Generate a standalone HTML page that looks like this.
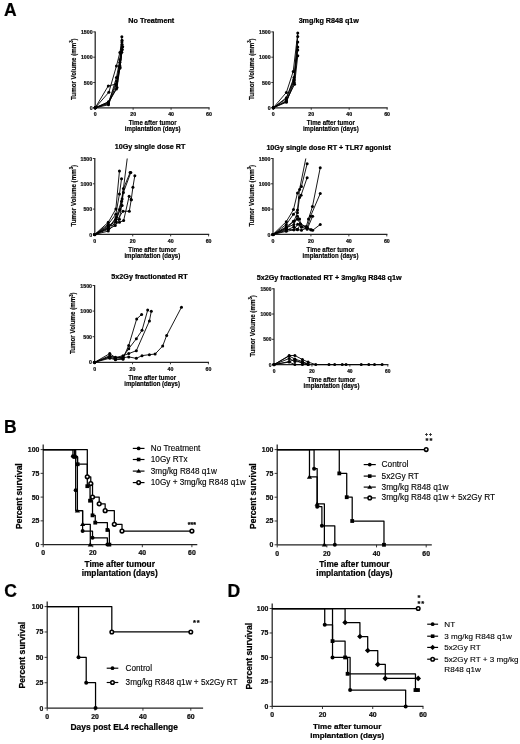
<!DOCTYPE html>
<html><head><meta charset="utf-8"><title>Figure</title>
<style>html,body{margin:0;padding:0;background:#fff;width:520px;height:744px;overflow:hidden}svg{display:block}</style>
</head><body>
<svg width="520" height="744" viewBox="0 0 520 744" font-family='"Liberation Sans", Arial, sans-serif'>
<style>text[font-weight="bold"]{stroke:#000;stroke-width:0.22px} text[font-weight="normal"]{stroke:#000;stroke-width:0.12px} text.lt{stroke-width:0.15px}</style>
<rect width="520" height="744" fill="#fff"/>
<text x="4" y="15.6" font-size="17.5" font-weight="bold" text-anchor="start" fill="#000">A</text>
<text x="4" y="432.6" font-size="17.5" font-weight="bold" text-anchor="start" fill="#000">B</text>
<text x="4.2" y="596.8" font-size="17.5" font-weight="bold" text-anchor="start" fill="#000">C</text>
<text x="227.6" y="596.6" font-size="17.5" font-weight="bold" text-anchor="start" fill="#000">D</text>
<line x1="95.2" y1="31.4" x2="95.2" y2="107.8" stroke="#222" stroke-width="1.25"/>
<line x1="94.6" y1="107.8" x2="209.6" y2="107.8" stroke="#222" stroke-width="1.25"/>
<line x1="93.2" y1="107.8" x2="95.2" y2="107.8" stroke="#222" stroke-width="0.9"/>
<text x="92.6" y="109.94" font-size="5.94" font-weight="bold" text-anchor="end" fill="#111" textLength="2.91" lengthAdjust="spacingAndGlyphs">0</text>
<line x1="93.2" y1="82.5" x2="95.2" y2="82.5" stroke="#222" stroke-width="0.9"/>
<text x="92.6" y="84.64" font-size="5.94" font-weight="bold" text-anchor="end" fill="#111" textLength="8.74" lengthAdjust="spacingAndGlyphs">500</text>
<line x1="93.2" y1="57.2" x2="95.2" y2="57.2" stroke="#222" stroke-width="0.9"/>
<text x="92.6" y="59.34" font-size="5.94" font-weight="bold" text-anchor="end" fill="#111" textLength="11.65" lengthAdjust="spacingAndGlyphs">1000</text>
<line x1="93.2" y1="31.9" x2="95.2" y2="31.9" stroke="#222" stroke-width="0.9"/>
<text x="92.6" y="34.04" font-size="5.94" font-weight="bold" text-anchor="end" fill="#111" textLength="11.65" lengthAdjust="spacingAndGlyphs">1500</text>
<line x1="95.2" y1="107.8" x2="95.2" y2="109.8" stroke="#222" stroke-width="0.9"/>
<text x="95.2" y="116" font-size="5.83" font-weight="bold" text-anchor="middle" fill="#111" textLength="2.91" lengthAdjust="spacingAndGlyphs">0</text>
<line x1="133.13" y1="107.8" x2="133.13" y2="109.8" stroke="#222" stroke-width="0.9"/>
<text x="133.13" y="116" font-size="5.83" font-weight="bold" text-anchor="middle" fill="#111" textLength="5.82" lengthAdjust="spacingAndGlyphs">20</text>
<line x1="171.07" y1="107.8" x2="171.07" y2="109.8" stroke="#222" stroke-width="0.9"/>
<text x="171.07" y="116" font-size="5.83" font-weight="bold" text-anchor="middle" fill="#111" textLength="5.82" lengthAdjust="spacingAndGlyphs">40</text>
<line x1="209" y1="107.8" x2="209" y2="109.8" stroke="#222" stroke-width="0.9"/>
<text x="209" y="116" font-size="5.83" font-weight="bold" text-anchor="middle" fill="#111" textLength="5.82" lengthAdjust="spacingAndGlyphs">60</text>
<text x="151.3" y="23.3" font-size="7.2" font-weight="bold" text-anchor="middle" fill="#000">No Treatment</text>
<g transform="translate(152.7,125) scale(1,1.15)"><text x="0" y="0" font-size="6.1" font-weight="bold" text-anchor="middle" class="lt">Time after tumor</text></g>
<g transform="translate(152.7,131.4) scale(1,1.15)"><text x="0" y="0" font-size="6.1" font-weight="bold" text-anchor="middle" class="lt">implantation (days)</text></g>
<text x="0" y="0" font-size="6.2" font-weight="bold" text-anchor="middle" fill="#000" transform="translate(75.9,69.15) rotate(-90) scale(1,1.12)" class="lt">Tumor Volume (mm<tspan font-size="4.2" dy="-2.4">3</tspan><tspan dy="2.4">)</tspan></text>
<polyline fill="none" stroke="#000" stroke-width="0.9" stroke-linejoin="round" points="95.2,107.8 108.29,85.89 116.44,84.02 119.86,62.26 121.85,36.71"/>
<circle cx="95.2" cy="107.8" r="1.5" fill="#000"/>
<circle cx="108.29" cy="85.89" r="1.5" fill="#000"/>
<circle cx="116.44" cy="84.02" r="1.5" fill="#000"/>
<circle cx="119.86" cy="62.26" r="1.5" fill="#000"/>
<circle cx="121.85" cy="36.71" r="1.5" fill="#000"/>
<polyline fill="none" stroke="#000" stroke-width="0.9" stroke-linejoin="round" points="95.2,107.8 108.86,92.22 116.44,66 119.86,52.6 122.04,40.2"/>
<circle cx="95.2" cy="107.8" r="1.5" fill="#000"/>
<circle cx="108.86" cy="92.22" r="1.5" fill="#000"/>
<circle cx="116.44" cy="66" r="1.5" fill="#000"/>
<circle cx="119.86" cy="52.6" r="1.5" fill="#000"/>
<circle cx="122.04" cy="40.2" r="1.5" fill="#000"/>
<polyline fill="none" stroke="#000" stroke-width="0.9" stroke-linejoin="round" points="95.2,107.8 108.29,103.09 116.44,89.08 119.86,67.12 122.7,46.68"/>
<circle cx="95.2" cy="107.8" r="1.5" fill="#000"/>
<circle cx="108.29" cy="103.09" r="1.5" fill="#000"/>
<circle cx="116.44" cy="89.08" r="1.5" fill="#000"/>
<circle cx="119.86" cy="67.12" r="1.5" fill="#000"/>
<circle cx="122.7" cy="46.68" r="1.5" fill="#000"/>
<polyline fill="none" stroke="#000" stroke-width="0.9" stroke-linejoin="round" points="95.2,107.8 108.48,104.76 116.06,85.03 119.86,67.32 122.13,44.55"/>
<circle cx="95.2" cy="107.8" r="1.5" fill="#000"/>
<circle cx="108.48" cy="104.76" r="1.5" fill="#000"/>
<circle cx="116.06" cy="85.03" r="1.5" fill="#000"/>
<circle cx="119.86" cy="67.32" r="1.5" fill="#000"/>
<circle cx="122.13" cy="44.55" r="1.5" fill="#000"/>
<polyline fill="none" stroke="#000" stroke-width="0.9" stroke-linejoin="round" points="95.2,107.8 108.48,102.23 116.63,81.49 119.86,65.8 122.32,49.61"/>
<circle cx="95.2" cy="107.8" r="1.5" fill="#000"/>
<circle cx="108.48" cy="102.23" r="1.5" fill="#000"/>
<circle cx="116.63" cy="81.49" r="1.5" fill="#000"/>
<circle cx="119.86" cy="65.8" r="1.5" fill="#000"/>
<circle cx="122.32" cy="49.61" r="1.5" fill="#000"/>
<polyline fill="none" stroke="#000" stroke-width="0.9" stroke-linejoin="round" points="95.2,107.8 108.48,103.75 116.44,77.44 119.86,59.73 121.94,42.02"/>
<circle cx="95.2" cy="107.8" r="1.5" fill="#000"/>
<circle cx="108.48" cy="103.75" r="1.5" fill="#000"/>
<circle cx="116.44" cy="77.44" r="1.5" fill="#000"/>
<circle cx="119.86" cy="59.73" r="1.5" fill="#000"/>
<circle cx="121.94" cy="42.02" r="1.5" fill="#000"/>
<polyline fill="none" stroke="#000" stroke-width="0.9" stroke-linejoin="round" points="95.2,107.8 108.48,101.73 117.01,87.56 119.86,68.33 121.75,52.14"/>
<circle cx="95.2" cy="107.8" r="1.5" fill="#000"/>
<circle cx="108.48" cy="101.73" r="1.5" fill="#000"/>
<circle cx="117.01" cy="87.56" r="1.5" fill="#000"/>
<circle cx="119.86" cy="68.33" r="1.5" fill="#000"/>
<circle cx="121.75" cy="52.14" r="1.5" fill="#000"/>
<line x1="273.3" y1="31.4" x2="273.3" y2="107.8" stroke="#222" stroke-width="1.25"/>
<line x1="272.7" y1="107.8" x2="387.7" y2="107.8" stroke="#222" stroke-width="1.25"/>
<line x1="271.3" y1="107.8" x2="273.3" y2="107.8" stroke="#222" stroke-width="0.9"/>
<text x="270.7" y="109.94" font-size="5.94" font-weight="bold" text-anchor="end" fill="#111" textLength="2.91" lengthAdjust="spacingAndGlyphs">0</text>
<line x1="271.3" y1="82.5" x2="273.3" y2="82.5" stroke="#222" stroke-width="0.9"/>
<text x="270.7" y="84.64" font-size="5.94" font-weight="bold" text-anchor="end" fill="#111" textLength="8.74" lengthAdjust="spacingAndGlyphs">500</text>
<line x1="271.3" y1="57.2" x2="273.3" y2="57.2" stroke="#222" stroke-width="0.9"/>
<text x="270.7" y="59.34" font-size="5.94" font-weight="bold" text-anchor="end" fill="#111" textLength="11.65" lengthAdjust="spacingAndGlyphs">1000</text>
<line x1="271.3" y1="31.9" x2="273.3" y2="31.9" stroke="#222" stroke-width="0.9"/>
<text x="270.7" y="34.04" font-size="5.94" font-weight="bold" text-anchor="end" fill="#111" textLength="11.65" lengthAdjust="spacingAndGlyphs">1500</text>
<line x1="273.3" y1="107.8" x2="273.3" y2="109.8" stroke="#222" stroke-width="0.9"/>
<text x="273.3" y="116" font-size="5.83" font-weight="bold" text-anchor="middle" fill="#111" textLength="2.91" lengthAdjust="spacingAndGlyphs">0</text>
<line x1="311.23" y1="107.8" x2="311.23" y2="109.8" stroke="#222" stroke-width="0.9"/>
<text x="311.23" y="116" font-size="5.83" font-weight="bold" text-anchor="middle" fill="#111" textLength="5.82" lengthAdjust="spacingAndGlyphs">20</text>
<line x1="349.17" y1="107.8" x2="349.17" y2="109.8" stroke="#222" stroke-width="0.9"/>
<text x="349.17" y="116" font-size="5.83" font-weight="bold" text-anchor="middle" fill="#111" textLength="5.82" lengthAdjust="spacingAndGlyphs">40</text>
<line x1="387.1" y1="107.8" x2="387.1" y2="109.8" stroke="#222" stroke-width="0.9"/>
<text x="387.1" y="116" font-size="5.83" font-weight="bold" text-anchor="middle" fill="#111" textLength="5.82" lengthAdjust="spacingAndGlyphs">60</text>
<text x="328.8" y="23.1" font-size="7.2" font-weight="bold" text-anchor="middle" fill="#000">3mg/kg R848 q1w</text>
<g transform="translate(330.8,125) scale(1,1.15)"><text x="0" y="0" font-size="6.1" font-weight="bold" text-anchor="middle" class="lt">Time after tumor</text></g>
<g transform="translate(330.8,131.4) scale(1,1.15)"><text x="0" y="0" font-size="6.1" font-weight="bold" text-anchor="middle" class="lt">implantation (days)</text></g>
<text x="0" y="0" font-size="6.2" font-weight="bold" text-anchor="middle" fill="#000" transform="translate(254,69.15) rotate(-90) scale(1,1.12)" class="lt">Tumor Volume (mm<tspan font-size="4.2" dy="-2.4">3</tspan><tspan dy="2.4">)</tspan></text>
<polyline fill="none" stroke="#000" stroke-width="0.9" stroke-linejoin="round" points="273.3,107.8 286.39,92.42 293.22,71.42 297.77,33.01"/>
<circle cx="273.3" cy="107.8" r="1.5" fill="#000"/>
<circle cx="286.39" cy="92.42" r="1.5" fill="#000"/>
<circle cx="293.22" cy="71.42" r="1.5" fill="#000"/>
<circle cx="297.77" cy="33.01" r="1.5" fill="#000"/>
<polyline fill="none" stroke="#000" stroke-width="0.9" stroke-linejoin="round" points="273.3,107.8 286.2,98.79 293.97,77.44 297.77,36.5"/>
<circle cx="273.3" cy="107.8" r="1.5" fill="#000"/>
<circle cx="286.2" cy="98.79" r="1.5" fill="#000"/>
<circle cx="293.97" cy="77.44" r="1.5" fill="#000"/>
<circle cx="297.77" cy="36.5" r="1.5" fill="#000"/>
<polyline fill="none" stroke="#000" stroke-width="0.9" stroke-linejoin="round" points="273.3,107.8 286.39,101.53 293.97,80.53 297.77,49.91"/>
<circle cx="273.3" cy="107.8" r="1.5" fill="#000"/>
<circle cx="286.39" cy="101.53" r="1.5" fill="#000"/>
<circle cx="293.97" cy="80.53" r="1.5" fill="#000"/>
<circle cx="297.77" cy="49.91" r="1.5" fill="#000"/>
<polyline fill="none" stroke="#000" stroke-width="0.9" stroke-linejoin="round" points="273.3,107.8 286.39,100.72 294.54,84.32 297.77,55.78"/>
<circle cx="273.3" cy="107.8" r="1.5" fill="#000"/>
<circle cx="286.39" cy="100.72" r="1.5" fill="#000"/>
<circle cx="294.54" cy="84.32" r="1.5" fill="#000"/>
<circle cx="297.77" cy="55.78" r="1.5" fill="#000"/>
<polyline fill="none" stroke="#000" stroke-width="0.9" stroke-linejoin="round" points="273.3,107.8 286.39,97.68 293.97,79.46 297.77,42.02"/>
<circle cx="273.3" cy="107.8" r="1.5" fill="#000"/>
<circle cx="286.39" cy="97.68" r="1.5" fill="#000"/>
<circle cx="293.97" cy="79.46" r="1.5" fill="#000"/>
<circle cx="297.77" cy="42.02" r="1.5" fill="#000"/>
<polyline fill="none" stroke="#000" stroke-width="0.9" stroke-linejoin="round" points="273.3,107.8 286.39,102.23 294.16,82.5 297.77,47.08"/>
<circle cx="273.3" cy="107.8" r="1.5" fill="#000"/>
<circle cx="286.39" cy="102.23" r="1.5" fill="#000"/>
<circle cx="294.16" cy="82.5" r="1.5" fill="#000"/>
<circle cx="297.77" cy="47.08" r="1.5" fill="#000"/>
<line x1="94.8" y1="158" x2="94.8" y2="234.4" stroke="#222" stroke-width="1.25"/>
<line x1="94.2" y1="234.4" x2="209.2" y2="234.4" stroke="#222" stroke-width="1.25"/>
<line x1="92.8" y1="234.4" x2="94.8" y2="234.4" stroke="#222" stroke-width="0.9"/>
<text x="92.2" y="236.54" font-size="5.94" font-weight="bold" text-anchor="end" fill="#111" textLength="2.91" lengthAdjust="spacingAndGlyphs">0</text>
<line x1="92.8" y1="209.1" x2="94.8" y2="209.1" stroke="#222" stroke-width="0.9"/>
<text x="92.2" y="211.24" font-size="5.94" font-weight="bold" text-anchor="end" fill="#111" textLength="8.74" lengthAdjust="spacingAndGlyphs">500</text>
<line x1="92.8" y1="183.8" x2="94.8" y2="183.8" stroke="#222" stroke-width="0.9"/>
<text x="92.2" y="185.94" font-size="5.94" font-weight="bold" text-anchor="end" fill="#111" textLength="11.65" lengthAdjust="spacingAndGlyphs">1000</text>
<line x1="92.8" y1="158.5" x2="94.8" y2="158.5" stroke="#222" stroke-width="0.9"/>
<text x="92.2" y="160.64" font-size="5.94" font-weight="bold" text-anchor="end" fill="#111" textLength="11.65" lengthAdjust="spacingAndGlyphs">1500</text>
<line x1="94.8" y1="234.4" x2="94.8" y2="236.4" stroke="#222" stroke-width="0.9"/>
<text x="94.8" y="242.6" font-size="5.83" font-weight="bold" text-anchor="middle" fill="#111" textLength="2.91" lengthAdjust="spacingAndGlyphs">0</text>
<line x1="132.73" y1="234.4" x2="132.73" y2="236.4" stroke="#222" stroke-width="0.9"/>
<text x="132.73" y="242.6" font-size="5.83" font-weight="bold" text-anchor="middle" fill="#111" textLength="5.82" lengthAdjust="spacingAndGlyphs">20</text>
<line x1="170.67" y1="234.4" x2="170.67" y2="236.4" stroke="#222" stroke-width="0.9"/>
<text x="170.67" y="242.6" font-size="5.83" font-weight="bold" text-anchor="middle" fill="#111" textLength="5.82" lengthAdjust="spacingAndGlyphs">40</text>
<line x1="208.6" y1="234.4" x2="208.6" y2="236.4" stroke="#222" stroke-width="0.9"/>
<text x="208.6" y="242.6" font-size="5.83" font-weight="bold" text-anchor="middle" fill="#111" textLength="5.82" lengthAdjust="spacingAndGlyphs">60</text>
<text x="150" y="149.4" font-size="7.2" font-weight="bold" text-anchor="middle" fill="#000">10Gy single dose RT</text>
<g transform="translate(152.3,251.6) scale(1,1.15)"><text x="0" y="0" font-size="6.1" font-weight="bold" text-anchor="middle" class="lt">Time after tumor</text></g>
<g transform="translate(152.3,258) scale(1,1.15)"><text x="0" y="0" font-size="6.1" font-weight="bold" text-anchor="middle" class="lt">implantation (days)</text></g>
<text x="0" y="0" font-size="6.2" font-weight="bold" text-anchor="middle" fill="#000" transform="translate(75.5,195.75) rotate(-90) scale(1,1.12)" class="lt">Tumor Volume (mm<tspan font-size="4.2" dy="-2.4">3</tspan><tspan dy="2.4">)</tspan></text>
<polyline fill="none" stroke="#000" stroke-width="0.9" stroke-linejoin="round" points="94.8,234.4 108.27,222.26 115.85,209 119.46,171"/>
<circle cx="94.8" cy="234.4" r="1.5" fill="#000"/>
<circle cx="108.27" cy="222.26" r="1.5" fill="#000"/>
<circle cx="115.85" cy="209" r="1.5" fill="#000"/>
<circle cx="119.46" cy="171" r="1.5" fill="#000"/>
<polyline fill="none" stroke="#000" stroke-width="0.9" stroke-linejoin="round" points="94.8,234.4 108.27,224.28 115.85,214.16 119.46,194.07 121.54,178.69"/>
<circle cx="94.8" cy="234.4" r="1.5" fill="#000"/>
<circle cx="108.27" cy="224.28" r="1.5" fill="#000"/>
<circle cx="115.85" cy="214.16" r="1.5" fill="#000"/>
<circle cx="119.46" cy="194.07" r="1.5" fill="#000"/>
<circle cx="121.54" cy="178.69" r="1.5" fill="#000"/>
<polyline fill="none" stroke="#000" stroke-width="0.9" stroke-linejoin="round" points="94.8,234.4 108.27,228.33 116.23,217.2 122.11,198.98 127.23,158.5"/>
<circle cx="94.8" cy="234.4" r="1.5" fill="#000"/>
<circle cx="108.27" cy="228.33" r="1.5" fill="#000"/>
<circle cx="116.23" cy="217.2" r="1.5" fill="#000"/>
<circle cx="122.11" cy="198.98" r="1.5" fill="#000"/>
<polyline fill="none" stroke="#000" stroke-width="0.9" stroke-linejoin="round" points="94.8,234.4 108.27,225.55 115.85,221.75 119.84,209.61 123.44,188.61 130.08,172.62"/>
<circle cx="94.8" cy="234.4" r="1.5" fill="#000"/>
<circle cx="108.27" cy="225.55" r="1.5" fill="#000"/>
<circle cx="115.85" cy="221.75" r="1.5" fill="#000"/>
<circle cx="119.84" cy="209.61" r="1.5" fill="#000"/>
<circle cx="123.44" cy="188.61" r="1.5" fill="#000"/>
<circle cx="130.08" cy="172.62" r="1.5" fill="#000"/>
<polyline fill="none" stroke="#000" stroke-width="0.9" stroke-linejoin="round" points="94.8,234.4 108.27,229.34 115.28,225.55 119.46,219.22 123.44,192.4 130.84,172.41"/>
<circle cx="94.8" cy="234.4" r="1.5" fill="#000"/>
<circle cx="108.27" cy="229.34" r="1.5" fill="#000"/>
<circle cx="115.28" cy="225.55" r="1.5" fill="#000"/>
<circle cx="119.46" cy="219.22" r="1.5" fill="#000"/>
<circle cx="123.44" cy="192.4" r="1.5" fill="#000"/>
<circle cx="130.84" cy="172.41" r="1.5" fill="#000"/>
<polyline fill="none" stroke="#000" stroke-width="0.9" stroke-linejoin="round" points="94.8,234.4 108.27,231.11 115.85,221.75 123.06,211.23 129.32,211.23 131.22,199.69 132.92,187.19 134.82,175.7"/>
<circle cx="94.8" cy="234.4" r="1.5" fill="#000"/>
<circle cx="108.27" cy="231.11" r="1.5" fill="#000"/>
<circle cx="115.85" cy="221.75" r="1.5" fill="#000"/>
<circle cx="123.06" cy="211.23" r="1.5" fill="#000"/>
<circle cx="129.32" cy="211.23" r="1.5" fill="#000"/>
<circle cx="131.22" cy="199.69" r="1.5" fill="#000"/>
<circle cx="132.92" cy="187.19" r="1.5" fill="#000"/>
<circle cx="134.82" cy="175.7" r="1.5" fill="#000"/>
<polyline fill="none" stroke="#000" stroke-width="0.9" stroke-linejoin="round" points="94.8,234.4 108.27,226.81 119.46,222.26 123.63,220.59 129.13,196.3 131.22,199.69"/>
<circle cx="94.8" cy="234.4" r="1.5" fill="#000"/>
<circle cx="108.27" cy="226.81" r="1.5" fill="#000"/>
<circle cx="119.46" cy="222.26" r="1.5" fill="#000"/>
<circle cx="123.63" cy="220.59" r="1.5" fill="#000"/>
<circle cx="129.13" cy="196.3" r="1.5" fill="#000"/>
<circle cx="131.22" cy="199.69" r="1.5" fill="#000"/>
<polyline fill="none" stroke="#000" stroke-width="0.9" stroke-linejoin="round" points="94.8,234.4 108.27,227.82 115.66,219.22 122.11,205.56 121.54,201.31"/>
<circle cx="94.8" cy="234.4" r="1.5" fill="#000"/>
<circle cx="108.27" cy="227.82" r="1.5" fill="#000"/>
<circle cx="115.66" cy="219.22" r="1.5" fill="#000"/>
<circle cx="122.11" cy="205.56" r="1.5" fill="#000"/>
<circle cx="121.54" cy="201.31" r="1.5" fill="#000"/>
<line x1="273" y1="158" x2="273" y2="234.4" stroke="#222" stroke-width="1.25"/>
<line x1="272.4" y1="234.4" x2="387.4" y2="234.4" stroke="#222" stroke-width="1.25"/>
<line x1="271" y1="234.4" x2="273" y2="234.4" stroke="#222" stroke-width="0.9"/>
<text x="270.4" y="236.54" font-size="5.94" font-weight="bold" text-anchor="end" fill="#111" textLength="2.91" lengthAdjust="spacingAndGlyphs">0</text>
<line x1="271" y1="209.1" x2="273" y2="209.1" stroke="#222" stroke-width="0.9"/>
<text x="270.4" y="211.24" font-size="5.94" font-weight="bold" text-anchor="end" fill="#111" textLength="8.74" lengthAdjust="spacingAndGlyphs">500</text>
<line x1="271" y1="183.8" x2="273" y2="183.8" stroke="#222" stroke-width="0.9"/>
<text x="270.4" y="185.94" font-size="5.94" font-weight="bold" text-anchor="end" fill="#111" textLength="11.65" lengthAdjust="spacingAndGlyphs">1000</text>
<line x1="271" y1="158.5" x2="273" y2="158.5" stroke="#222" stroke-width="0.9"/>
<text x="270.4" y="160.64" font-size="5.94" font-weight="bold" text-anchor="end" fill="#111" textLength="11.65" lengthAdjust="spacingAndGlyphs">1500</text>
<line x1="273" y1="234.4" x2="273" y2="236.4" stroke="#222" stroke-width="0.9"/>
<text x="273" y="242.6" font-size="5.83" font-weight="bold" text-anchor="middle" fill="#111" textLength="2.91" lengthAdjust="spacingAndGlyphs">0</text>
<line x1="310.93" y1="234.4" x2="310.93" y2="236.4" stroke="#222" stroke-width="0.9"/>
<text x="310.93" y="242.6" font-size="5.83" font-weight="bold" text-anchor="middle" fill="#111" textLength="5.82" lengthAdjust="spacingAndGlyphs">20</text>
<line x1="348.87" y1="234.4" x2="348.87" y2="236.4" stroke="#222" stroke-width="0.9"/>
<text x="348.87" y="242.6" font-size="5.83" font-weight="bold" text-anchor="middle" fill="#111" textLength="5.82" lengthAdjust="spacingAndGlyphs">40</text>
<line x1="386.8" y1="234.4" x2="386.8" y2="236.4" stroke="#222" stroke-width="0.9"/>
<text x="386.8" y="242.6" font-size="5.83" font-weight="bold" text-anchor="middle" fill="#111" textLength="5.82" lengthAdjust="spacingAndGlyphs">60</text>
<text x="328.6" y="149.6" font-size="7.2" font-weight="bold" text-anchor="middle" fill="#000">10Gy single dose RT + TLR7 agonist</text>
<g transform="translate(330.5,251.6) scale(1,1.15)"><text x="0" y="0" font-size="6.1" font-weight="bold" text-anchor="middle" class="lt">Time after tumor</text></g>
<g transform="translate(330.5,258) scale(1,1.15)"><text x="0" y="0" font-size="6.1" font-weight="bold" text-anchor="middle" class="lt">implantation (days)</text></g>
<text x="0" y="0" font-size="6.2" font-weight="bold" text-anchor="middle" fill="#000" transform="translate(253.7,195.75) rotate(-90) scale(1,1.12)" class="lt">Tumor Volume (mm<tspan font-size="4.2" dy="-2.4">3</tspan><tspan dy="2.4">)</tspan></text>
<polyline fill="none" stroke="#000" stroke-width="0.9" stroke-linejoin="round" points="273,234.4 286.28,221.7 293.48,209.61 297.47,193.01 301.45,186.38 307.14,163.81"/>
<circle cx="273" cy="234.4" r="1.5" fill="#000"/>
<circle cx="286.28" cy="221.7" r="1.5" fill="#000"/>
<circle cx="293.48" cy="209.61" r="1.5" fill="#000"/>
<circle cx="297.47" cy="193.01" r="1.5" fill="#000"/>
<circle cx="301.45" cy="186.38" r="1.5" fill="#000"/>
<circle cx="307.14" cy="163.81" r="1.5" fill="#000"/>
<polyline fill="none" stroke="#000" stroke-width="0.9" stroke-linejoin="round" points="273,234.4 286.28,224.48 293.48,214.16 297.47,210.11 299.55,189.42 305.81,158.5"/>
<circle cx="273" cy="234.4" r="1.5" fill="#000"/>
<circle cx="286.28" cy="224.48" r="1.5" fill="#000"/>
<circle cx="293.48" cy="214.16" r="1.5" fill="#000"/>
<circle cx="297.47" cy="210.11" r="1.5" fill="#000"/>
<circle cx="299.55" cy="189.42" r="1.5" fill="#000"/>
<polyline fill="none" stroke="#000" stroke-width="0.9" stroke-linejoin="round" points="273,234.4 286.28,226.81 293.86,221.24 297.47,212.64 299.55,197.41 301.07,195.19 307.14,177.63"/>
<circle cx="273" cy="234.4" r="1.5" fill="#000"/>
<circle cx="286.28" cy="226.81" r="1.5" fill="#000"/>
<circle cx="293.86" cy="221.24" r="1.5" fill="#000"/>
<circle cx="297.47" cy="212.64" r="1.5" fill="#000"/>
<circle cx="299.55" cy="197.41" r="1.5" fill="#000"/>
<circle cx="301.07" cy="195.19" r="1.5" fill="#000"/>
<circle cx="307.14" cy="177.63" r="1.5" fill="#000"/>
<polyline fill="none" stroke="#000" stroke-width="0.9" stroke-linejoin="round" points="273,234.4 286.28,227.82 293.86,224.48 297.47,216.18 299.55,219.02 301.45,227.06 306.19,226.81 308.47,219.02 312.45,206.62 320.23,167.71"/>
<circle cx="273" cy="234.4" r="1.5" fill="#000"/>
<circle cx="286.28" cy="227.82" r="1.5" fill="#000"/>
<circle cx="293.86" cy="224.48" r="1.5" fill="#000"/>
<circle cx="297.47" cy="216.18" r="1.5" fill="#000"/>
<circle cx="299.55" cy="219.02" r="1.5" fill="#000"/>
<circle cx="301.45" cy="227.06" r="1.5" fill="#000"/>
<circle cx="306.19" cy="226.81" r="1.5" fill="#000"/>
<circle cx="308.47" cy="219.02" r="1.5" fill="#000"/>
<circle cx="312.45" cy="206.62" r="1.5" fill="#000"/>
<circle cx="320.23" cy="167.71" r="1.5" fill="#000"/>
<polyline fill="none" stroke="#000" stroke-width="0.9" stroke-linejoin="round" points="273,234.4 286.28,229.34 293.86,229.85 297.47,229.85 300.5,223.93 307.14,227.82 310.55,216.18 320.23,193.62"/>
<circle cx="273" cy="234.4" r="1.5" fill="#000"/>
<circle cx="286.28" cy="229.34" r="1.5" fill="#000"/>
<circle cx="293.86" cy="229.85" r="1.5" fill="#000"/>
<circle cx="297.47" cy="229.85" r="1.5" fill="#000"/>
<circle cx="300.5" cy="223.93" r="1.5" fill="#000"/>
<circle cx="307.14" cy="227.82" r="1.5" fill="#000"/>
<circle cx="310.55" cy="216.18" r="1.5" fill="#000"/>
<circle cx="320.23" cy="193.62" r="1.5" fill="#000"/>
<polyline fill="none" stroke="#000" stroke-width="0.9" stroke-linejoin="round" points="273,234.4 286.28,230.35 293.86,226.81 297.47,229.34 301.45,230.35 307.14,227.82 310.93,229.85 312.64,230.35 320.23,224.48"/>
<circle cx="273" cy="234.4" r="1.5" fill="#000"/>
<circle cx="286.28" cy="230.35" r="1.5" fill="#000"/>
<circle cx="293.86" cy="226.81" r="1.5" fill="#000"/>
<circle cx="297.47" cy="229.34" r="1.5" fill="#000"/>
<circle cx="301.45" cy="230.35" r="1.5" fill="#000"/>
<circle cx="307.14" cy="227.82" r="1.5" fill="#000"/>
<circle cx="310.93" cy="229.85" r="1.5" fill="#000"/>
<circle cx="312.64" cy="230.35" r="1.5" fill="#000"/>
<circle cx="320.23" cy="224.48" r="1.5" fill="#000"/>
<polyline fill="none" stroke="#000" stroke-width="0.9" stroke-linejoin="round" points="273,234.4 286.28,228.33 293.48,221.24 297.47,219.22 300.5,223.93 306.19,226.81 310.93,229.85"/>
<circle cx="273" cy="234.4" r="1.5" fill="#000"/>
<circle cx="286.28" cy="228.33" r="1.5" fill="#000"/>
<circle cx="293.48" cy="221.24" r="1.5" fill="#000"/>
<circle cx="297.47" cy="219.22" r="1.5" fill="#000"/>
<circle cx="300.5" cy="223.93" r="1.5" fill="#000"/>
<circle cx="306.19" cy="226.81" r="1.5" fill="#000"/>
<circle cx="310.93" cy="229.85" r="1.5" fill="#000"/>
<polyline fill="none" stroke="#000" stroke-width="0.9" stroke-linejoin="round" points="273,234.4 286.28,231.36 293.86,229.85 297.66,224.28 301.45,227.06 307.14,229.34 312.64,216.18"/>
<circle cx="273" cy="234.4" r="1.5" fill="#000"/>
<circle cx="286.28" cy="231.36" r="1.5" fill="#000"/>
<circle cx="293.86" cy="229.85" r="1.5" fill="#000"/>
<circle cx="297.66" cy="224.28" r="1.5" fill="#000"/>
<circle cx="301.45" cy="227.06" r="1.5" fill="#000"/>
<circle cx="307.14" cy="229.34" r="1.5" fill="#000"/>
<circle cx="312.64" cy="216.18" r="1.5" fill="#000"/>
<line x1="94.6" y1="285" x2="94.6" y2="362.3" stroke="#222" stroke-width="1.25"/>
<line x1="94" y1="362.3" x2="209" y2="362.3" stroke="#222" stroke-width="1.25"/>
<line x1="92.6" y1="362.3" x2="94.6" y2="362.3" stroke="#222" stroke-width="0.9"/>
<text x="92" y="364.44" font-size="5.94" font-weight="bold" text-anchor="end" fill="#111" textLength="2.91" lengthAdjust="spacingAndGlyphs">0</text>
<line x1="92.6" y1="336.7" x2="94.6" y2="336.7" stroke="#222" stroke-width="0.9"/>
<text x="92" y="338.84" font-size="5.94" font-weight="bold" text-anchor="end" fill="#111" textLength="8.74" lengthAdjust="spacingAndGlyphs">500</text>
<line x1="92.6" y1="311.1" x2="94.6" y2="311.1" stroke="#222" stroke-width="0.9"/>
<text x="92" y="313.24" font-size="5.94" font-weight="bold" text-anchor="end" fill="#111" textLength="11.65" lengthAdjust="spacingAndGlyphs">1000</text>
<line x1="92.6" y1="285.5" x2="94.6" y2="285.5" stroke="#222" stroke-width="0.9"/>
<text x="92" y="287.64" font-size="5.94" font-weight="bold" text-anchor="end" fill="#111" textLength="11.65" lengthAdjust="spacingAndGlyphs">1500</text>
<line x1="94.6" y1="362.3" x2="94.6" y2="364.3" stroke="#222" stroke-width="0.9"/>
<text x="94.6" y="370.5" font-size="5.83" font-weight="bold" text-anchor="middle" fill="#111" textLength="2.91" lengthAdjust="spacingAndGlyphs">0</text>
<line x1="132.53" y1="362.3" x2="132.53" y2="364.3" stroke="#222" stroke-width="0.9"/>
<text x="132.53" y="370.5" font-size="5.83" font-weight="bold" text-anchor="middle" fill="#111" textLength="5.82" lengthAdjust="spacingAndGlyphs">20</text>
<line x1="170.47" y1="362.3" x2="170.47" y2="364.3" stroke="#222" stroke-width="0.9"/>
<text x="170.47" y="370.5" font-size="5.83" font-weight="bold" text-anchor="middle" fill="#111" textLength="5.82" lengthAdjust="spacingAndGlyphs">40</text>
<line x1="208.4" y1="362.3" x2="208.4" y2="364.3" stroke="#222" stroke-width="0.9"/>
<text x="208.4" y="370.5" font-size="5.83" font-weight="bold" text-anchor="middle" fill="#111" textLength="5.82" lengthAdjust="spacingAndGlyphs">60</text>
<text x="149.5" y="278.5" font-size="7.2" font-weight="bold" text-anchor="middle" fill="#000">5x2Gy fractionated RT</text>
<g transform="translate(152.1,379.5) scale(1,1.15)"><text x="0" y="0" font-size="6.1" font-weight="bold" text-anchor="middle" class="lt">Time after tumor</text></g>
<g transform="translate(152.1,385.9) scale(1,1.15)"><text x="0" y="0" font-size="6.1" font-weight="bold" text-anchor="middle" class="lt">implantation (days)</text></g>
<text x="0" y="0" font-size="6.2" font-weight="bold" text-anchor="middle" fill="#000" transform="translate(75.3,323.2) rotate(-90) scale(1,1.12)" class="lt">Tumor Volume (mm<tspan font-size="4.2" dy="-2.4">3</tspan><tspan dy="2.4">)</tspan></text>
<polyline fill="none" stroke="#000" stroke-width="0.9" stroke-linejoin="round" points="94.6,362.3 109.77,357.18 115.46,359.23 123.05,358.2 128.74,345.4 136.71,318.93 141.64,314.53"/>
<circle cx="94.6" cy="362.3" r="1.5" fill="#000"/>
<circle cx="109.77" cy="357.18" r="1.5" fill="#000"/>
<circle cx="115.46" cy="359.23" r="1.5" fill="#000"/>
<circle cx="123.05" cy="358.2" r="1.5" fill="#000"/>
<circle cx="128.74" cy="345.4" r="1.5" fill="#000"/>
<circle cx="136.71" cy="318.93" r="1.5" fill="#000"/>
<circle cx="141.64" cy="314.53" r="1.5" fill="#000"/>
<polyline fill="none" stroke="#000" stroke-width="0.9" stroke-linejoin="round" points="94.6,362.3 109.77,355.64 115.46,358.2 123.05,356.67 128.74,348.73 136.33,338.75 142.02,330.35 147.71,310.08"/>
<circle cx="94.6" cy="362.3" r="1.5" fill="#000"/>
<circle cx="109.77" cy="355.64" r="1.5" fill="#000"/>
<circle cx="115.46" cy="358.2" r="1.5" fill="#000"/>
<circle cx="123.05" cy="356.67" r="1.5" fill="#000"/>
<circle cx="128.74" cy="348.73" r="1.5" fill="#000"/>
<circle cx="136.33" cy="338.75" r="1.5" fill="#000"/>
<circle cx="142.02" cy="330.35" r="1.5" fill="#000"/>
<circle cx="147.71" cy="310.08" r="1.5" fill="#000"/>
<polyline fill="none" stroke="#000" stroke-width="0.9" stroke-linejoin="round" points="94.6,362.3 109.77,353.6 115.46,357.69 123.05,355.64 128.74,353.6 136.33,350.68 149.41,320.93 151.31,311.3"/>
<circle cx="94.6" cy="362.3" r="1.5" fill="#000"/>
<circle cx="109.77" cy="353.6" r="1.5" fill="#000"/>
<circle cx="115.46" cy="357.69" r="1.5" fill="#000"/>
<circle cx="123.05" cy="355.64" r="1.5" fill="#000"/>
<circle cx="128.74" cy="353.6" r="1.5" fill="#000"/>
<circle cx="136.33" cy="350.68" r="1.5" fill="#000"/>
<circle cx="149.41" cy="320.93" r="1.5" fill="#000"/>
<circle cx="151.31" cy="311.3" r="1.5" fill="#000"/>
<polyline fill="none" stroke="#000" stroke-width="0.9" stroke-linejoin="round" points="94.6,362.3 109.77,356.67 115.46,357.18 123.05,357.69 128.74,356.92 136.33,358.36 142.02,355.64 149.41,354.67 155.1,354.06 162.69,346.02 166.67,335.42 181.47,307.21"/>
<circle cx="94.6" cy="362.3" r="1.5" fill="#000"/>
<circle cx="109.77" cy="356.67" r="1.5" fill="#000"/>
<circle cx="115.46" cy="357.18" r="1.5" fill="#000"/>
<circle cx="123.05" cy="357.69" r="1.5" fill="#000"/>
<circle cx="128.74" cy="356.92" r="1.5" fill="#000"/>
<circle cx="136.33" cy="358.36" r="1.5" fill="#000"/>
<circle cx="142.02" cy="355.64" r="1.5" fill="#000"/>
<circle cx="149.41" cy="354.67" r="1.5" fill="#000"/>
<circle cx="155.1" cy="354.06" r="1.5" fill="#000"/>
<circle cx="162.69" cy="346.02" r="1.5" fill="#000"/>
<circle cx="166.67" cy="335.42" r="1.5" fill="#000"/>
<circle cx="181.47" cy="307.21" r="1.5" fill="#000"/>
<polyline fill="none" stroke="#000" stroke-width="0.9" stroke-linejoin="round" points="94.6,362.3 109.77,358.2 115.46,359.74 123.05,359.23"/>
<circle cx="94.6" cy="362.3" r="1.5" fill="#000"/>
<circle cx="109.77" cy="358.2" r="1.5" fill="#000"/>
<circle cx="115.46" cy="359.74" r="1.5" fill="#000"/>
<circle cx="123.05" cy="359.23" r="1.5" fill="#000"/>
<line x1="274" y1="288.25" x2="274" y2="364.6" stroke="#222" stroke-width="1.25"/>
<line x1="273.4" y1="364.6" x2="388.4" y2="364.6" stroke="#222" stroke-width="1.25"/>
<line x1="272" y1="364.6" x2="274" y2="364.6" stroke="#222" stroke-width="0.9"/>
<text x="271.4" y="366.58" font-size="5.5" font-weight="bold" text-anchor="end" fill="#111" textLength="2.7" lengthAdjust="spacingAndGlyphs">0</text>
<line x1="272" y1="339.32" x2="274" y2="339.32" stroke="#222" stroke-width="0.9"/>
<text x="271.4" y="341.3" font-size="5.5" font-weight="bold" text-anchor="end" fill="#111" textLength="8.09" lengthAdjust="spacingAndGlyphs">500</text>
<line x1="272" y1="314.03" x2="274" y2="314.03" stroke="#222" stroke-width="0.9"/>
<text x="271.4" y="316.01" font-size="5.5" font-weight="bold" text-anchor="end" fill="#111" textLength="10.79" lengthAdjust="spacingAndGlyphs">1000</text>
<line x1="272" y1="288.75" x2="274" y2="288.75" stroke="#222" stroke-width="0.9"/>
<text x="271.4" y="290.73" font-size="5.5" font-weight="bold" text-anchor="end" fill="#111" textLength="10.79" lengthAdjust="spacingAndGlyphs">1500</text>
<line x1="274" y1="364.6" x2="274" y2="366.6" stroke="#222" stroke-width="0.9"/>
<text x="274" y="372.8" font-size="5.4" font-weight="bold" text-anchor="middle" fill="#111" textLength="2.7" lengthAdjust="spacingAndGlyphs">0</text>
<line x1="311.93" y1="364.6" x2="311.93" y2="366.6" stroke="#222" stroke-width="0.9"/>
<text x="311.93" y="372.8" font-size="5.4" font-weight="bold" text-anchor="middle" fill="#111" textLength="5.39" lengthAdjust="spacingAndGlyphs">20</text>
<line x1="349.87" y1="364.6" x2="349.87" y2="366.6" stroke="#222" stroke-width="0.9"/>
<text x="349.87" y="372.8" font-size="5.4" font-weight="bold" text-anchor="middle" fill="#111" textLength="5.39" lengthAdjust="spacingAndGlyphs">40</text>
<line x1="387.8" y1="364.6" x2="387.8" y2="366.6" stroke="#222" stroke-width="0.9"/>
<text x="387.8" y="372.8" font-size="5.4" font-weight="bold" text-anchor="middle" fill="#111" textLength="5.39" lengthAdjust="spacingAndGlyphs">60</text>
<text x="329.1" y="280" font-size="7.2" font-weight="bold" text-anchor="middle" fill="#000">5x2Gy fractionated RT + 3mg/kg R848 q1w</text>
<g transform="translate(331.5,381.8) scale(1,1.15)"><text x="0" y="0" font-size="6.1" font-weight="bold" text-anchor="middle" class="lt">Time after tumor</text></g>
<g transform="translate(331.5,388.2) scale(1,1.15)"><text x="0" y="0" font-size="6.1" font-weight="bold" text-anchor="middle" class="lt">implantation (days)</text></g>
<text x="0" y="0" font-size="6.2" font-weight="bold" text-anchor="middle" fill="#000" transform="translate(254.8,325.98) rotate(-90) scale(1,1.12)" class="lt">Tumor Volume (mm<tspan font-size="4.2" dy="-2.4">3</tspan><tspan dy="2.4">)</tspan></text>
<polyline fill="none" stroke="#000" stroke-width="0.9" stroke-linejoin="round" points="274,364.6 289.17,355.5 294.86,355.5 302.45,359.54 308.14,362.07 315.73,364.6 329,364.6 334.69,364.6 342.28,364.6 346.07,364.6 361.25,364.6 368.83,364.6 374.52,364.6 382.11,364.6"/>
<circle cx="274" cy="364.6" r="1.5" fill="#000"/>
<circle cx="289.17" cy="355.5" r="1.5" fill="#000"/>
<circle cx="294.86" cy="355.5" r="1.5" fill="#000"/>
<circle cx="302.45" cy="359.54" r="1.5" fill="#000"/>
<circle cx="308.14" cy="362.07" r="1.5" fill="#000"/>
<circle cx="315.73" cy="364.6" r="1.5" fill="#000"/>
<circle cx="329" cy="364.6" r="1.5" fill="#000"/>
<circle cx="334.69" cy="364.6" r="1.5" fill="#000"/>
<circle cx="342.28" cy="364.6" r="1.5" fill="#000"/>
<circle cx="346.07" cy="364.6" r="1.5" fill="#000"/>
<circle cx="361.25" cy="364.6" r="1.5" fill="#000"/>
<circle cx="368.83" cy="364.6" r="1.5" fill="#000"/>
<circle cx="374.52" cy="364.6" r="1.5" fill="#000"/>
<circle cx="382.11" cy="364.6" r="1.5" fill="#000"/>
<polyline fill="none" stroke="#000" stroke-width="0.9" stroke-linejoin="round" points="274,364.6 289.17,358.53 294.86,361.57 302.45,362.07 308.14,364.6"/>
<circle cx="274" cy="364.6" r="1.5" fill="#000"/>
<circle cx="289.17" cy="358.53" r="1.5" fill="#000"/>
<circle cx="294.86" cy="361.57" r="1.5" fill="#000"/>
<circle cx="302.45" cy="362.07" r="1.5" fill="#000"/>
<circle cx="308.14" cy="364.6" r="1.5" fill="#000"/>
<polyline fill="none" stroke="#000" stroke-width="0.9" stroke-linejoin="round" points="274,364.6 289.17,361.57 294.86,359.54 302.45,363.59 308.14,364.6"/>
<circle cx="274" cy="364.6" r="1.5" fill="#000"/>
<circle cx="289.17" cy="361.57" r="1.5" fill="#000"/>
<circle cx="294.86" cy="359.54" r="1.5" fill="#000"/>
<circle cx="302.45" cy="363.59" r="1.5" fill="#000"/>
<circle cx="308.14" cy="364.6" r="1.5" fill="#000"/>
<polyline fill="none" stroke="#000" stroke-width="0.9" stroke-linejoin="round" points="274,364.6 289.17,362.07 294.86,364.6 302.45,364.6"/>
<circle cx="274" cy="364.6" r="1.5" fill="#000"/>
<circle cx="289.17" cy="362.07" r="1.5" fill="#000"/>
<circle cx="294.86" cy="364.6" r="1.5" fill="#000"/>
<circle cx="302.45" cy="364.6" r="1.5" fill="#000"/>
<polyline fill="none" stroke="#000" stroke-width="0.9" stroke-linejoin="round" points="274,364.6 289.17,356 294.86,359.04 302.45,361.57 308.14,364.09"/>
<circle cx="274" cy="364.6" r="1.5" fill="#000"/>
<circle cx="289.17" cy="356" r="1.5" fill="#000"/>
<circle cx="294.86" cy="359.04" r="1.5" fill="#000"/>
<circle cx="302.45" cy="361.57" r="1.5" fill="#000"/>
<circle cx="308.14" cy="364.09" r="1.5" fill="#000"/>
<line x1="43.2" y1="444.6" x2="43.2" y2="544.6" stroke="#222" stroke-width="1.25"/>
<line x1="43.2" y1="544.6" x2="197.3" y2="544.6" stroke="#222" stroke-width="1.25"/>
<line x1="40.6" y1="544.6" x2="43.2" y2="544.6" stroke="#222" stroke-width="0.9"/>
<text x="39.3" y="547.08" font-size="6.9" font-weight="bold" text-anchor="end" fill="#111">0</text>
<line x1="40.6" y1="520.85" x2="43.2" y2="520.85" stroke="#222" stroke-width="0.9"/>
<text x="39.3" y="523.33" font-size="6.9" font-weight="bold" text-anchor="end" fill="#111">25</text>
<line x1="40.6" y1="497.1" x2="43.2" y2="497.1" stroke="#222" stroke-width="0.9"/>
<text x="39.3" y="499.58" font-size="6.9" font-weight="bold" text-anchor="end" fill="#111">50</text>
<line x1="40.6" y1="473.35" x2="43.2" y2="473.35" stroke="#222" stroke-width="0.9"/>
<text x="39.3" y="475.83" font-size="6.9" font-weight="bold" text-anchor="end" fill="#111">75</text>
<line x1="40.6" y1="449.6" x2="43.2" y2="449.6" stroke="#222" stroke-width="0.9"/>
<text x="39.3" y="452.08" font-size="6.9" font-weight="bold" text-anchor="end" fill="#111">100</text>
<line x1="43.2" y1="544.6" x2="43.2" y2="547.2" stroke="#222" stroke-width="0.9"/>
<text x="43.2" y="555.3" font-size="6.9" font-weight="bold" text-anchor="middle" fill="#111">0</text>
<line x1="92.77" y1="544.6" x2="92.77" y2="547.2" stroke="#222" stroke-width="0.9"/>
<text x="92.77" y="555.3" font-size="6.9" font-weight="bold" text-anchor="middle" fill="#111">20</text>
<line x1="142.33" y1="544.6" x2="142.33" y2="547.2" stroke="#222" stroke-width="0.9"/>
<text x="142.33" y="555.3" font-size="6.9" font-weight="bold" text-anchor="middle" fill="#111">40</text>
<line x1="191.9" y1="544.6" x2="191.9" y2="547.2" stroke="#222" stroke-width="0.9"/>
<text x="191.9" y="555.3" font-size="6.9" font-weight="bold" text-anchor="middle" fill="#111">60</text>
<text x="0" y="0" font-size="8.5" font-weight="bold" text-anchor="middle" fill="#000" transform="translate(21.8,496.1) rotate(-90)">Percent survival</text>
<text x="119.7" y="567.1" font-size="8.3" font-weight="bold" text-anchor="middle" fill="#000">Time after tumour</text>
<text x="119.7" y="575.8" font-size="8.3" font-weight="bold" text-anchor="middle" fill="#000">implantation (days)</text>
<polyline fill="none" stroke="#000" stroke-width="1.25" stroke-linejoin="round" points="43.2,449.6 72.94,449.6 72.94,456.35 75.67,456.35 75.67,490.36 75.67,490.36 75.67,510.69 82.61,510.69 82.61,531.01 92.52,531.01 92.52,537.86 107.39,537.86 107.39,544.6"/>
<circle cx="72.94" cy="456.35" r="2" fill="#000"/>
<circle cx="75.67" cy="490.36" r="2" fill="#000"/>
<circle cx="82.61" cy="531.01" r="2" fill="#000"/>
<circle cx="92.52" cy="537.86" r="2" fill="#000"/>
<circle cx="107.39" cy="544.6" r="2" fill="#000"/>
<polyline fill="none" stroke="#000" stroke-width="1.25" stroke-linejoin="round" points="43.2,449.6 74.43,449.6 74.43,456.92 77.65,456.92 77.65,464.23 87.31,464.23 87.31,486.18 90.04,486.18 90.04,500.71 92.52,500.71 92.52,515.34 95.25,515.34 95.25,522.65 107.39,522.65 107.39,529.97 109.37,529.97 109.37,544.6"/>
<rect x="72.53" y="455.02" width="3.8" height="3.8" fill="#000"/>
<rect x="75.75" y="462.33" width="3.8" height="3.8" fill="#000"/>
<rect x="85.41" y="484.28" width="3.8" height="3.8" fill="#000"/>
<rect x="88.14" y="498.81" width="3.8" height="3.8" fill="#000"/>
<rect x="90.62" y="513.44" width="3.8" height="3.8" fill="#000"/>
<rect x="93.34" y="520.75" width="3.8" height="3.8" fill="#000"/>
<rect x="105.49" y="528.07" width="3.8" height="3.8" fill="#000"/>
<rect x="107.47" y="542.7" width="3.8" height="3.8" fill="#000"/>
<polyline fill="none" stroke="#000" stroke-width="1.25" stroke-linejoin="round" points="43.2,449.6 75.67,449.6 75.67,456.35 77.4,456.35 77.4,510.69 82.61,510.69 82.61,524.27 90.29,524.27 90.29,544.6"/>
<polygon fill="#000" points="75.67,453.95 73.07,458.15 78.27,458.15"/>
<polygon fill="#000" points="77.4,508.29 74.8,512.49 80,512.49"/>
<polygon fill="#000" points="82.61,521.87 80.01,526.07 85.21,526.07"/>
<polygon fill="#000" points="90.29,542.2 87.69,546.4 92.89,546.4"/>
<polyline fill="none" stroke="#000" stroke-width="1.25" stroke-linejoin="round" points="43.2,449.6 87.31,449.6 87.31,476.77 90.78,476.77 90.78,483.52 92.52,483.52 92.52,497.1 99.21,497.1 99.21,503.85 105.16,503.85 105.16,510.69 114.33,510.69 114.33,524.27 122.01,524.27 122.01,531.01 191.9,531.01"/>
<circle cx="87.31" cy="476.77" r="1.86" fill="#fff" stroke="#000" stroke-width="1.55"/>
<circle cx="90.78" cy="483.52" r="1.86" fill="#fff" stroke="#000" stroke-width="1.55"/>
<circle cx="92.52" cy="497.1" r="1.86" fill="#fff" stroke="#000" stroke-width="1.55"/>
<circle cx="99.21" cy="503.85" r="1.86" fill="#fff" stroke="#000" stroke-width="1.55"/>
<circle cx="105.16" cy="510.69" r="1.86" fill="#fff" stroke="#000" stroke-width="1.55"/>
<circle cx="114.33" cy="524.27" r="1.86" fill="#fff" stroke="#000" stroke-width="1.55"/>
<circle cx="122.01" cy="531.01" r="1.86" fill="#fff" stroke="#000" stroke-width="1.55"/>
<circle cx="191.9" cy="531.01" r="1.86" fill="#fff" stroke="#000" stroke-width="1.55"/>
<text x="187.8" y="526.5" font-size="7" font-weight="bold" text-anchor="start" fill="#000" letter-spacing="0">***</text>
<line x1="132.8" y1="448.4" x2="144.5" y2="448.4" stroke="#000" stroke-width="1.15"/>
<circle cx="138.65" cy="448.4" r="1.9" fill="#000"/>
<text x="150.8" y="450.8" font-size="8.2" font-weight="normal" text-anchor="start" fill="#000">No Treatment</text>
<line x1="132.8" y1="459.5" x2="144.5" y2="459.5" stroke="#000" stroke-width="1.15"/>
<rect x="136.84" y="457.69" width="3.61" height="3.61" fill="#000"/>
<text x="150.8" y="461.9" font-size="8.2" font-weight="normal" text-anchor="start" fill="#000">10Gy RTx</text>
<line x1="132.8" y1="471.1" x2="144.5" y2="471.1" stroke="#000" stroke-width="1.15"/>
<polygon fill="#000" points="138.65,468.82 136.18,472.81 141.12,472.81"/>
<text x="150.8" y="473.5" font-size="8.2" font-weight="normal" text-anchor="start" fill="#000">3mg/kg R848 q1w</text>
<line x1="132.8" y1="482.6" x2="144.5" y2="482.6" stroke="#000" stroke-width="1.15"/>
<circle cx="138.65" cy="482.6" r="1.77" fill="#fff" stroke="#000" stroke-width="1.55"/>
<text x="150.8" y="485" font-size="8.2" font-weight="normal" text-anchor="start" fill="#000">10Gy + 3mg/kg R848 q1w</text>
<line x1="277.2" y1="444.6" x2="277.2" y2="544.8" stroke="#222" stroke-width="1.25"/>
<line x1="277.2" y1="544.8" x2="431.8" y2="544.8" stroke="#222" stroke-width="1.25"/>
<line x1="274.6" y1="544.8" x2="277.2" y2="544.8" stroke="#222" stroke-width="0.9"/>
<text x="273.3" y="547.28" font-size="6.9" font-weight="bold" text-anchor="end" fill="#111">0</text>
<line x1="274.6" y1="521" x2="277.2" y2="521" stroke="#222" stroke-width="0.9"/>
<text x="273.3" y="523.48" font-size="6.9" font-weight="bold" text-anchor="end" fill="#111">25</text>
<line x1="274.6" y1="497.2" x2="277.2" y2="497.2" stroke="#222" stroke-width="0.9"/>
<text x="273.3" y="499.68" font-size="6.9" font-weight="bold" text-anchor="end" fill="#111">50</text>
<line x1="274.6" y1="473.4" x2="277.2" y2="473.4" stroke="#222" stroke-width="0.9"/>
<text x="273.3" y="475.88" font-size="6.9" font-weight="bold" text-anchor="end" fill="#111">75</text>
<line x1="274.6" y1="449.6" x2="277.2" y2="449.6" stroke="#222" stroke-width="0.9"/>
<text x="273.3" y="452.08" font-size="6.9" font-weight="bold" text-anchor="end" fill="#111">100</text>
<line x1="277.2" y1="544.8" x2="277.2" y2="547.4" stroke="#222" stroke-width="0.9"/>
<text x="277.2" y="555.5" font-size="6.9" font-weight="bold" text-anchor="middle" fill="#111">0</text>
<line x1="326.87" y1="544.8" x2="326.87" y2="547.4" stroke="#222" stroke-width="0.9"/>
<text x="326.87" y="555.5" font-size="6.9" font-weight="bold" text-anchor="middle" fill="#111">20</text>
<line x1="376.53" y1="544.8" x2="376.53" y2="547.4" stroke="#222" stroke-width="0.9"/>
<text x="376.53" y="555.5" font-size="6.9" font-weight="bold" text-anchor="middle" fill="#111">40</text>
<line x1="426.2" y1="544.8" x2="426.2" y2="547.4" stroke="#222" stroke-width="0.9"/>
<text x="426.2" y="555.5" font-size="6.9" font-weight="bold" text-anchor="middle" fill="#111">60</text>
<text x="0" y="0" font-size="8.5" font-weight="bold" text-anchor="middle" fill="#000" transform="translate(256,496.1) rotate(-90)">Percent survival</text>
<text x="354.4" y="567.3" font-size="8.3" font-weight="bold" text-anchor="middle" fill="#000">Time after tumour</text>
<text x="354.4" y="576" font-size="8.3" font-weight="bold" text-anchor="middle" fill="#000">implantation (days)</text>
<polyline fill="none" stroke="#000" stroke-width="1.25" stroke-linejoin="round" points="277.2,449.6 314.08,449.6 314.08,468.64 317.18,468.64 317.18,506.72 321.9,506.72 321.9,525.76 334.81,525.76 334.81,544.8"/>
<circle cx="314.08" cy="468.64" r="2" fill="#000"/>
<circle cx="317.18" cy="506.72" r="2" fill="#000"/>
<circle cx="321.9" cy="525.76" r="2" fill="#000"/>
<circle cx="334.81" cy="544.8" r="2" fill="#000"/>
<polyline fill="none" stroke="#000" stroke-width="1.25" stroke-linejoin="round" points="277.2,449.6 339.28,449.6 339.28,473.4 346.73,473.4 346.73,497.2 352.2,497.2 352.2,521 383.98,521 383.98,544.8"/>
<rect x="337.38" y="471.5" width="3.8" height="3.8" fill="#000"/>
<rect x="344.83" y="495.3" width="3.8" height="3.8" fill="#000"/>
<rect x="350.3" y="519.1" width="3.8" height="3.8" fill="#000"/>
<rect x="382.08" y="542.9" width="3.8" height="3.8" fill="#000"/>
<polyline fill="none" stroke="#000" stroke-width="1.25" stroke-linejoin="round" points="277.2,449.6 309.48,449.6 309.48,476.83 317.18,476.83 317.18,503.96 324.38,503.96 324.38,544.8"/>
<polygon fill="#000" points="309.48,474.43 306.88,478.63 312.08,478.63"/>
<polygon fill="#000" points="317.18,501.56 314.58,505.76 319.78,505.76"/>
<polygon fill="#000" points="324.38,542.4 321.78,546.6 326.98,546.6"/>
<polyline fill="none" stroke="#000" stroke-width="1.25" stroke-linejoin="round" points="277.2,449.6 426.2,449.6"/>
<circle cx="426.2" cy="449.6" r="1.77" fill="#fff" stroke="#000" stroke-width="1.55"/>
<text x="425.04" y="436" font-size="5" font-weight="bold" text-anchor="start" fill="#000" letter-spacing="1.08">++</text>
<text x="425.54" y="442.57" font-size="7.5" font-weight="bold" text-anchor="start" fill="#000" letter-spacing="0.98">**</text>
<line x1="363.7" y1="464.6" x2="375.8" y2="464.6" stroke="#000" stroke-width="1.15"/>
<circle cx="369.75" cy="464.6" r="1.9" fill="#000"/>
<text x="381.6" y="467" font-size="8.3" font-weight="normal" text-anchor="start" fill="#000">Control</text>
<line x1="363.7" y1="476.1" x2="375.8" y2="476.1" stroke="#000" stroke-width="1.15"/>
<rect x="367.94" y="474.3" width="3.61" height="3.61" fill="#000"/>
<text x="381.6" y="478.5" font-size="8.3" font-weight="normal" text-anchor="start" fill="#000">5x2Gy RT</text>
<line x1="363.7" y1="487.1" x2="375.8" y2="487.1" stroke="#000" stroke-width="1.15"/>
<polygon fill="#000" points="369.75,484.82 367.28,488.81 372.22,488.81"/>
<text x="381.6" y="489.5" font-size="8.3" font-weight="normal" text-anchor="start" fill="#000">3mg/kg R848 q1w</text>
<line x1="363.7" y1="497.9" x2="375.8" y2="497.9" stroke="#000" stroke-width="1.15"/>
<circle cx="369.75" cy="497.9" r="1.77" fill="#fff" stroke="#000" stroke-width="1.55"/>
<text x="381.6" y="500.3" font-size="8.3" font-weight="normal" text-anchor="start" fill="#000">3mg/kg R848 q1w + 5x2Gy RT</text>
<line x1="47.2" y1="601.6" x2="47.2" y2="708.1" stroke="#222" stroke-width="1.25"/>
<line x1="47.2" y1="708.1" x2="203.1" y2="708.1" stroke="#222" stroke-width="1.25"/>
<line x1="44.6" y1="708.1" x2="47.2" y2="708.1" stroke="#222" stroke-width="0.9"/>
<text x="43.3" y="710.58" font-size="6.9" font-weight="bold" text-anchor="end" fill="#111">0</text>
<line x1="44.6" y1="682.73" x2="47.2" y2="682.73" stroke="#222" stroke-width="0.9"/>
<text x="43.3" y="685.21" font-size="6.9" font-weight="bold" text-anchor="end" fill="#111">25</text>
<line x1="44.6" y1="657.35" x2="47.2" y2="657.35" stroke="#222" stroke-width="0.9"/>
<text x="43.3" y="659.83" font-size="6.9" font-weight="bold" text-anchor="end" fill="#111">50</text>
<line x1="44.6" y1="631.98" x2="47.2" y2="631.98" stroke="#222" stroke-width="0.9"/>
<text x="43.3" y="634.46" font-size="6.9" font-weight="bold" text-anchor="end" fill="#111">75</text>
<line x1="44.6" y1="606.6" x2="47.2" y2="606.6" stroke="#222" stroke-width="0.9"/>
<text x="43.3" y="609.08" font-size="6.9" font-weight="bold" text-anchor="end" fill="#111">100</text>
<line x1="47.2" y1="708.1" x2="47.2" y2="710.7" stroke="#222" stroke-width="0.9"/>
<text x="47.2" y="718.8" font-size="6.9" font-weight="bold" text-anchor="middle" fill="#111">0</text>
<line x1="95.07" y1="708.1" x2="95.07" y2="710.7" stroke="#222" stroke-width="0.9"/>
<text x="95.07" y="718.8" font-size="6.9" font-weight="bold" text-anchor="middle" fill="#111">20</text>
<line x1="142.93" y1="708.1" x2="142.93" y2="710.7" stroke="#222" stroke-width="0.9"/>
<text x="142.93" y="718.8" font-size="6.9" font-weight="bold" text-anchor="middle" fill="#111">40</text>
<line x1="190.8" y1="708.1" x2="190.8" y2="710.7" stroke="#222" stroke-width="0.9"/>
<text x="190.8" y="718.8" font-size="6.9" font-weight="bold" text-anchor="middle" fill="#111">60</text>
<text x="0" y="0" font-size="8.65" font-weight="bold" text-anchor="middle" fill="#000" transform="translate(25.4,655.1) rotate(-90)">Percent survival</text>
<text x="124.2" y="730.4" font-size="8.45" font-weight="bold" text-anchor="middle" fill="#000">Days post EL4 rechallenge</text>
<polyline fill="none" stroke="#000" stroke-width="1.25" stroke-linejoin="round" points="47.2,606.6 78.55,606.6 78.55,657.35 86.21,657.35 86.21,682.73 95.55,682.73 95.55,708.1"/>
<circle cx="78.55" cy="657.35" r="2" fill="#000"/>
<circle cx="86.21" cy="682.73" r="2" fill="#000"/>
<circle cx="95.55" cy="708.1" r="2" fill="#000"/>
<polyline fill="none" stroke="#000" stroke-width="1.25" stroke-linejoin="round" points="47.2,606.6 111.82,606.6 111.82,631.98 190.8,631.98"/>
<circle cx="111.82" cy="631.98" r="1.77" fill="#fff" stroke="#000" stroke-width="1.55"/>
<circle cx="190.8" cy="631.98" r="1.77" fill="#fff" stroke="#000" stroke-width="1.55"/>
<text x="192.94" y="625.1" font-size="7.5" font-weight="bold" text-anchor="start" fill="#000" letter-spacing="0.98">**</text>
<line x1="106.7" y1="668.2" x2="118.3" y2="668.2" stroke="#000" stroke-width="1.15"/>
<circle cx="112.5" cy="668.2" r="1.9" fill="#000"/>
<text x="125.6" y="670.6" font-size="8.2" font-weight="normal" text-anchor="start" fill="#000">Control</text>
<line x1="106.7" y1="682.5" x2="118.3" y2="682.5" stroke="#000" stroke-width="1.15"/>
<circle cx="112.5" cy="682.5" r="1.77" fill="#fff" stroke="#000" stroke-width="1.55"/>
<text x="125.6" y="684.9" font-size="8.2" font-weight="normal" text-anchor="start" fill="#000">3mg/kg R848 q1w + 5x2Gy RT</text>
<line x1="272.2" y1="603.5" x2="272.2" y2="706.4" stroke="#222" stroke-width="1.25"/>
<line x1="272.2" y1="706.4" x2="423.4" y2="706.4" stroke="#222" stroke-width="1.25"/>
<line x1="269.6" y1="706.4" x2="272.2" y2="706.4" stroke="#222" stroke-width="0.9"/>
<text x="268.3" y="708.88" font-size="6.9" font-weight="bold" text-anchor="end" fill="#111">0</text>
<line x1="269.6" y1="681.92" x2="272.2" y2="681.92" stroke="#222" stroke-width="0.9"/>
<text x="268.3" y="684.41" font-size="6.9" font-weight="bold" text-anchor="end" fill="#111">25</text>
<line x1="269.6" y1="657.45" x2="272.2" y2="657.45" stroke="#222" stroke-width="0.9"/>
<text x="268.3" y="659.93" font-size="6.9" font-weight="bold" text-anchor="end" fill="#111">50</text>
<line x1="269.6" y1="632.98" x2="272.2" y2="632.98" stroke="#222" stroke-width="0.9"/>
<text x="268.3" y="635.46" font-size="6.9" font-weight="bold" text-anchor="end" fill="#111">75</text>
<line x1="269.6" y1="608.5" x2="272.2" y2="608.5" stroke="#222" stroke-width="0.9"/>
<text x="268.3" y="610.98" font-size="6.9" font-weight="bold" text-anchor="end" fill="#111">100</text>
<line x1="272.2" y1="706.4" x2="272.2" y2="709" stroke="#222" stroke-width="0.9"/>
<text x="272.2" y="717.1" font-size="6.9" font-weight="bold" text-anchor="middle" fill="#111">0</text>
<line x1="322.47" y1="706.4" x2="322.47" y2="709" stroke="#222" stroke-width="0.9"/>
<text x="322.47" y="717.1" font-size="6.9" font-weight="bold" text-anchor="middle" fill="#111">20</text>
<line x1="372.73" y1="706.4" x2="372.73" y2="709" stroke="#222" stroke-width="0.9"/>
<text x="372.73" y="717.1" font-size="6.9" font-weight="bold" text-anchor="middle" fill="#111">40</text>
<line x1="423" y1="706.4" x2="423" y2="709" stroke="#222" stroke-width="0.9"/>
<text x="423" y="717.1" font-size="6.9" font-weight="bold" text-anchor="middle" fill="#111">60</text>
<text x="0" y="0" font-size="8.65" font-weight="bold" text-anchor="middle" fill="#000" transform="translate(252,656.2) rotate(-90)">Percent survival</text>
<text x="347.2" y="728.9" font-size="8.05" font-weight="bold" text-anchor="middle" fill="#000">Time after tumour</text>
<text x="347.2" y="737.6" font-size="8.05" font-weight="bold" text-anchor="middle" fill="#000">implantation (days)</text>
<polyline fill="none" stroke="#000" stroke-width="1.25" stroke-linejoin="round" points="272.2,608.5 324.73,608.5 324.73,624.85 332.52,624.85 332.52,657.45 350.11,657.45 350.11,690.05 405.66,690.05 405.66,706.4"/>
<circle cx="324.73" cy="624.85" r="2" fill="#000"/>
<circle cx="332.52" cy="657.45" r="2" fill="#000"/>
<circle cx="350.11" cy="690.05" r="2" fill="#000"/>
<circle cx="405.66" cy="706.4" r="2" fill="#000"/>
<polyline fill="none" stroke="#000" stroke-width="1.25" stroke-linejoin="round" points="272.2,608.5 332.52,608.5 332.52,641.1 345.09,641.1 345.09,657.45 347.6,657.45 347.6,673.8 415.46,673.8 415.46,690.05 417.97,690.05"/>
<rect x="330.62" y="639.2" width="3.8" height="3.8" fill="#000"/>
<rect x="343.19" y="655.55" width="3.8" height="3.8" fill="#000"/>
<rect x="345.7" y="671.9" width="3.8" height="3.8" fill="#000"/>
<rect x="413.56" y="688.15" width="3.8" height="3.8" fill="#000"/>
<rect x="416.07" y="688.15" width="3.8" height="3.8" fill="#000"/>
<polyline fill="none" stroke="#000" stroke-width="1.25" stroke-linejoin="round" points="272.2,608.5 345.09,608.5 345.09,622.5 359.92,622.5 359.92,636.5 367.71,636.5 367.71,650.5 377.76,650.5 377.76,664.4 385.3,664.4 385.3,678.4 418.22,678.4"/>
<polygon fill="#000" points="345.09,619.7 347.89,622.5 345.09,625.3 342.29,622.5"/>
<polygon fill="#000" points="359.92,633.7 362.72,636.5 359.92,639.3 357.12,636.5"/>
<polygon fill="#000" points="367.71,647.7 370.51,650.5 367.71,653.3 364.91,650.5"/>
<polygon fill="#000" points="377.76,661.6 380.56,664.4 377.76,667.2 374.96,664.4"/>
<polygon fill="#000" points="385.3,675.6 388.1,678.4 385.3,681.2 382.5,678.4"/>
<polygon fill="#000" points="418.22,675.6 421.02,678.4 418.22,681.2 415.42,678.4"/>
<polyline fill="none" stroke="#000" stroke-width="1.25" stroke-linejoin="round" points="272.2,608.5 418.22,608.5"/>
<circle cx="418.22" cy="608.5" r="1.77" fill="#fff" stroke="#000" stroke-width="1.55"/>
<text x="417.6" y="600" font-size="7.5" font-weight="bold" text-anchor="start" fill="#000">*</text>
<text x="417.55" y="605.7" font-size="7.5" font-weight="bold" text-anchor="start" fill="#000" letter-spacing="0.68">**</text>
<line x1="427.2" y1="624.2" x2="438.1" y2="624.2" stroke="#000" stroke-width="1.15"/>
<circle cx="432.65" cy="624.2" r="1.9" fill="#000"/>
<text x="444.3" y="626.6" font-size="8.1" font-weight="normal" text-anchor="start" fill="#000">NT</text>
<line x1="427.2" y1="636.2" x2="438.1" y2="636.2" stroke="#000" stroke-width="1.15"/>
<rect x="430.84" y="634.4" width="3.61" height="3.61" fill="#000"/>
<text x="444.3" y="638.6" font-size="8.1" font-weight="normal" text-anchor="start" fill="#000">3 mg/kg R848 q1w</text>
<line x1="427.2" y1="647.4" x2="438.1" y2="647.4" stroke="#000" stroke-width="1.15"/>
<polygon fill="#000" points="432.65,644.74 435.31,647.4 432.65,650.06 429.99,647.4"/>
<text x="444.3" y="649.8" font-size="8.1" font-weight="normal" text-anchor="start" fill="#000">5x2Gy RT</text>
<line x1="427.2" y1="659.2" x2="438.1" y2="659.2" stroke="#000" stroke-width="1.15"/>
<circle cx="432.65" cy="659.2" r="1.77" fill="#fff" stroke="#000" stroke-width="1.55"/>
<text x="444.3" y="661.6" font-size="8.1" font-weight="normal" text-anchor="start" fill="#000">5x2Gy RT + 3 mg/kg</text>
<text x="444.3" y="672.45" font-size="8.1" font-weight="normal" text-anchor="start" fill="#000">R848 q1w</text>
</svg>
</body></html>
